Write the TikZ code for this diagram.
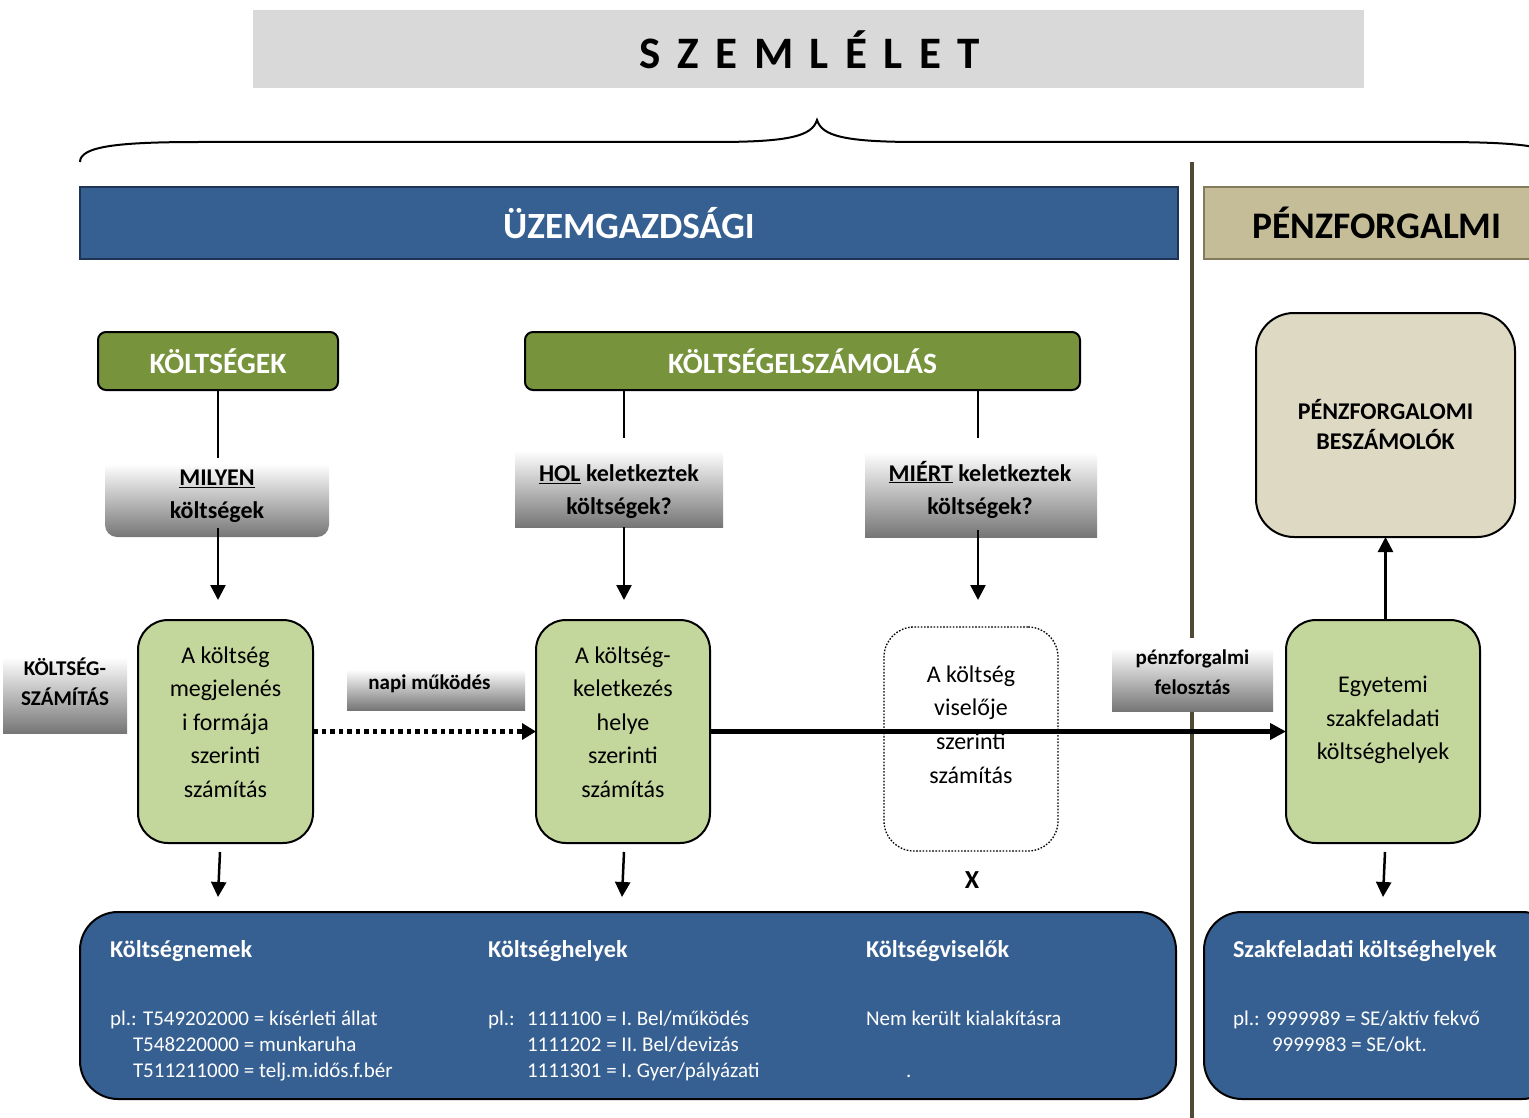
\documentclass[tikz,border=0pt]{standalone}
\usepackage{fontspec}
\setmainfont{Carlito}
\usetikzlibrary{arrows.meta}
\definecolor{uzblue}{RGB}{55,96,146}
\definecolor{uzedge}{RGB}{30,52,82}
\definecolor{kgreen}{RGB}{119,147,60}
\definecolor{lgreen}{RGB}{195,214,155}
\definecolor{tanfill}{RGB}{196,189,151}
\definecolor{tanedge}{RGB}{130,124,92}
\definecolor{ltan}{RGB}{221,217,195}
\definecolor{titlegray}{RGB}{217,217,217}
\definecolor{divcol}{RGB}{79,74,52}
\definecolor{gdark}{RGB}{118,118,118}
\pgfdeclareverticalshading{grayfade}{100bp}{color(0bp)=(gdark); color(25bp)=(gdark); color(68bp)=(white); color(100bp)=(white)}
\newcommand{\fz}[2]{\fontsize{#1}{#2}\selectfont}
\newcommand{\tsp}{\hspace{16.5pt}}
\begin{document}
\begin{tikzpicture}[x=1pt,y=-1pt,
  sz/.style 2 args={minimum width=#1pt, minimum height=#2pt, inner sep=0pt, outer sep=0pt},
  greenhead/.style={draw=black, line width=2pt, fill=kgreen, rounded corners=8pt, text=white, font=\fz{29.5}{34}\bfseries},
  fade/.style={shading=grayfade, draw=none},
  lgbox/.style={draw=black, line width=2pt, fill=lgreen, rounded corners=30pt},
  bluebox/.style={draw=black, line width=2pt, fill=uzblue, rounded corners=38pt},
  txt/.style={inner sep=0pt, outer sep=0pt, align=center},
  bodytxt/.style={inner sep=0pt, outer sep=0pt, anchor=base west, text=white, font=\fz{21}{26}},
  headtxt/.style={inner sep=0pt, outer sep=0pt, anchor=base west, text=white, font=\fz{24.2}{28}\bfseries},
  conn/.style={line width=1.8pt, draw=black},
  arr/.style={line width=2.5pt, draw=black, -{Triangle[length=15pt,width=15pt]}},
  bigarr/.style={line width=4.5pt, draw=black, -{Triangle[length=16pt,width=16pt]}},
  dotarr/.style={line width=4.5pt, draw=black, dash pattern=on 4.5pt off 4pt, -{Triangle[length=14pt,width=16pt]}}
]
\useasboundingbox (0,0) rectangle (1529,1118);
\clip (0,0) rectangle (1529,1118);

% title
\node[sz={1111}{78}, fill=titlegray] (title) at (808.5,49) {};
\node[inner sep=0pt, outer sep=0pt, anchor=base, font=\fz{45}{50}\bfseries] (titletxt) at (810,69)
  {S\tsp Z\tsp E\tsp M\tsp L\tsp É\tsp L\tsp E\tsp T};

% brace
\draw[line width=2pt] (80,162) .. controls (80,146) and (120,142) .. (200,142) -- (715,142)
  .. controls (790,142) and (812,136) .. (817,120)
  .. controls (822,136) and (844,142) .. (919,142) -- (1438,142)
  .. controls (1518,142) and (1558,146) .. (1558,162);

% divider
\coordinate (dvtop) at (1192,162);
\coordinate (dvbot) at (1192,1125);
\draw[line width=4pt, divcol] (dvtop) -- (dvbot);

% section bars
\node[sz={1098}{72}, fill=uzblue, draw=uzedge, line width=1.5pt, text=white, font=\fz{37}{40}\bfseries] (uz) at (629,223) {ÜZEMGAZDSÁGI};
\node[sz={346}{72}, fill=tanfill, draw=tanedge, line width=1.2pt, font=\fz{37.5}{40}\bfseries] (pz) at (1377,223) {PÉNZFORGALMI};

% green headers
\node[sz={240}{58}, greenhead] (kolt) at (218,361) {KÖLTSÉGEK};
\node[sz={555}{58}, greenhead] (ke) at (802.5,361) {KÖLTSÉGELSZÁMOLÁS};

% question boxes
\node[sz={224}{85}, fade, rounded corners=12pt] (milyen) at (217,494.5) {};
\node[txt, font=\fz{24}{33}\bfseries] (milyentxt) at (217,496.5) {\underline{MILYEN}\\költségek};
\node[sz={208}{89}, fade] (hol) at (619,482.5) {};
\node[txt, font=\fz{24}{33}\bfseries] (holtxt) at (619,491.5) {\underline{HOL} keletkeztek\\költségek?};
\node[sz={232}{99}, fade] (miert) at (981,487.5) {};
\node[txt, font=\fz{24}{33}\bfseries] (mierttxt) at (980,489.5) {\underline{MIÉRT} keletkeztek\\költségek?};

\coordinate (holx) at (624,0);
\coordinate (miertx) at (978,0);
\draw[conn] (kolt.south) -- ([yshift=-6pt]kolt.south |- milyen.north);
\draw[conn] (ke.south -| holx) -- (hol.north -| holx);
\draw[conn] (ke.south -| miertx) -- (miert.north -| miertx);

% green boxes
\node[sz={175}{223}, lgbox] (g1) at (225.5,731.5) {};
\node[sz={174}{223}, lgbox] (g2) at (623,731.5) {};
\node[sz={174}{224}, draw=black, line width=1.3pt, dash pattern=on 1.6pt off 1.6pt, fill=white, rounded corners=30pt] (g3) at (971,739) {};
\node[sz={194}{223}, lgbox] (g4) at (1383,731.5) {};
\node[sz={259}{224}, draw=black, line width=2pt, fill=ltan, rounded corners=38pt] (pb) at (1385.5,425) {};

\node[txt, font=\fz{24}{33.5}] (g1txt) at (225.5,722) {A költség\\megjelenés\\i formája\\szerinti\\számítás};
\node[txt, font=\fz{24}{33.5}] (g2txt) at (623,722) {A költség-\\keletkezés\\helye\\szerinti\\számítás};
\node[txt, font=\fz{24}{33.5}] (g3txt) at (971,724.5) {A költség\\viselője\\szerinti\\számítás};
\node[txt, font=\fz{24}{33.5}] (g4txt) at (1383,720) {Egyetemi\\szakfeladati\\költséghelyek};
\node[txt, font=\fz{24}{30}\bfseries] (pbtxt) at (1385.5,425) {PÉNZFORGALOMI\\BESZÁMOLÓK};

% arrows from question boxes
\draw[arr] ([yshift=9pt]kolt.south |- milyen.south) -- ([yshift=20pt]kolt.south |- g1.north);
\draw[arr] (hol.south -| holx) -- ([yshift=20pt]g2.north -| holx);
\draw[arr] ([yshift=7pt]miert.south -| miertx) -- ([yshift=20pt]g2.north -| miertx);

% up arrow
\draw[arr] (g4.north -| pb.south) -- (pb.south);

% side labels
\node[sz={124}{88}, fade] (ks) at (65,689) {};
\node[txt, font=\fz{21}{30}\bfseries] (kstxt) at (65,682) {KÖLTSÉG-\\SZÁMÍTÁS};
\node[sz={178}{47}, fade] (napi) at (436,686.5) {};
\node[txt, font=\fz{21}{26}\bfseries] (napitxt) at (429.5,684) {napi működés};

% horizontal arrows
\draw[dotarr] (g1.east) -- (g2.west);
\draw[bigarr] (g2.east) -- (g4.west);

\node[sz={161}{73}, fade] (pf) at (1192.5,674.5) {};
\node[txt, font=\fz{21}{30}\bfseries] (pftxt) at (1192.5,672) {pénzforgalmi\\felosztás};

\node[txt, font=\fz{26}{30}\bfseries] (xmark) at (972,880) {X};

% bottom boxes
\node[sz={1096}{187}, bluebox] (bb1) at (628,1005.5) {};
\node[sz={356}{187}, bluebox] (bb2) at (1382,1005.5) {};

\coordinate (d1s) at (220,852); \coordinate (d1e) at (218,897);
\coordinate (d2s) at (624,852); \coordinate (d2e) at (622,897);
\coordinate (d4s) at (1385,852); \coordinate (d4e) at (1383,897);
\draw[arr] (d1s) -- (d1e);
\draw[arr] (d2s) -- (d2e);
\draw[arr] (d4s) -- (d4e);

\node[headtxt] (h1) at (110,957) {Költségnemek};
\node[headtxt] (h2) at (488,957) {Költséghelyek};
\node[headtxt] (h3) at (866,957) {Költségviselők};
\node[headtxt] (h4) at (1233,957) {Szakfeladati költséghelyek};

\node[bodytxt] (a1) at (110,1025) {pl.: T549202000 = kísérleti állat};
\node[bodytxt] (a2) at (133,1051) {T548220000 = munkaruha};
\node[bodytxt] (a3) at (133,1077) {T511211000 = telj.m.idős.f.bér};
\node[bodytxt] (b0) at (488,1025) {pl.:};
\node[bodytxt] (b1) at (527,1025) {1111100 = I. Bel/működés};
\node[bodytxt] (b2) at (527,1051) {1111202 = II. Bel/devizás};
\node[bodytxt] (b3) at (527,1077) {1111301 = I. Gyer/pályázati};
\node[bodytxt] (c1) at (866,1025) {Nem került kialakításra};
\node[bodytxt] (c2) at (906,1077) {.};
\node[bodytxt] (e1) at (1233,1025) {pl.: 9999989 = SE/aktív fekvő};
\node[bodytxt] (e2) at (1272,1051) {9999983 = SE/okt.};
\end{tikzpicture}
\end{document}
